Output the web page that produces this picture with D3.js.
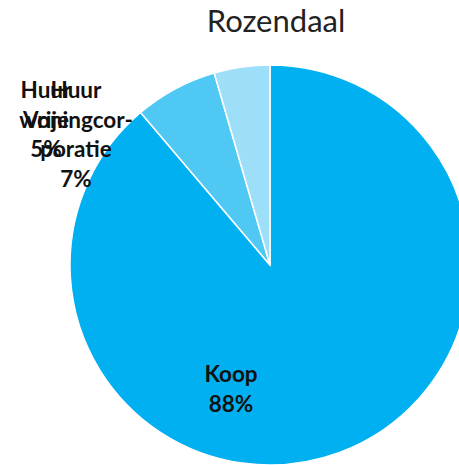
<!DOCTYPE html>
<html>
<head>
<meta charset="utf-8">
<script src="https://cdn.jsdelivr.net/npm/d3@7"></script>
<style>
html,body{margin:0;padding:0;background:#fff;overflow:hidden;}
svg{display:block;}
</style>
</head>
<body>
<svg id="chart" width="459" height="465"></svg>
<script>
const title = "Rozendaal";
const categories = ["Koop", "Huur woningcorporatie", "Huur Vrije"];
const values = [88.8, 6.7, 4.5];
const percentLabels = ["88%", "7%", "5%"];
const labelLines = [["Koop", "88%"], ["Huur", "woningcor-", "poratie", "7%"], ["Huur", "Vrije", "5%"]];
const colors = ["#00B0F0", "#4FC8F4", "#9DDFF9"];

const svg = d3.select("#chart");
const cx = 270, cy = 265, r = 200;

const pie = d3.pie().sort(null).value(d => d)(values);
const arc = d3.arc().innerRadius(0).outerRadius(r);
const color = d3.scaleOrdinal().domain(categories).range(colors);

const g = svg.append("g").attr("transform", `translate(${cx},${cy})`);
g.selectAll("path").data(pie).join("path")
  .attr("d", arc)
  .attr("fill", (d, i) => color(categories[i]))
  .attr("stroke", "#fff")
  .attr("stroke-width", 1.5);

svg.append("text")
  .attr("x", 276).attr("y", 32)
  .attr("text-anchor", "middle")
  .attr("font-family", "Lato, 'Open Sans', sans-serif")
  .attr("font-size", 31)
  .attr("fill", "#222")
  .text(title);

// label anchor positions (centre x, first baseline y)
const labelPos = [[231, 382], [76, 98], [46, 98]];
const lineH = 29.5;
const lab = svg.append("g")
  .attr("font-family", "Lato, 'Open Sans', sans-serif")
  .attr("font-weight", "bold")
  .attr("font-size", 22.5)
  .attr("fill", "#111")
  .attr("text-anchor", "middle");
labelLines.forEach((lines, i) => {
  const t = lab.append("text").attr("x", labelPos[i][0]).attr("y", labelPos[i][1]);
  lines.forEach((ln, j) => {
    t.append("tspan").attr("x", labelPos[i][0]).attr("dy", j === 0 ? 0 : lineH).text(ln);
  });
});
</script>
</body>
</html>
